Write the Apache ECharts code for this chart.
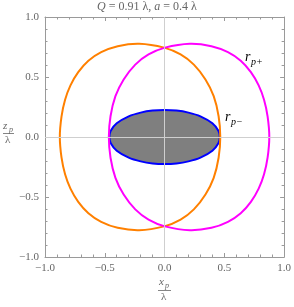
<!DOCTYPE html>
<html><head><meta charset="utf-8">
<script src="https://cdn.jsdelivr.net/npm/echarts@6/dist/echarts.min.js"></script>
<style>html,body{margin:0;padding:0;background:#fff}#c{width:294px;height:307px}</style>
</head><body><div id="c"></div>
<script>
// Tick labels
const tickValues = [-1.0, -0.5, 0.0, 0.5, 1.0];
// r_{p-} curve (orange), closed loop
const orangeX = [0.466, 0.452, 0.411, 0.342, 0.245, 0.134, -0.004, -0.212, -0.392, -0.530, -0.637, -0.722, -0.787, -0.832, -0.862, -0.876,
                 -0.862, -0.832, -0.787, -0.722, -0.637, -0.530, -0.392, -0.212, -0.004, 0.134, 0.245, 0.342, 0.411, 0.452];
const orangeY = [0.0, 0.173, 0.34, 0.479, 0.603, 0.688, 0.745, 0.777, 0.757, 0.707, 0.635, 0.54, 0.43, 0.31, 0.17, 0.0,
                 -0.17, -0.31, -0.43, -0.54, -0.635, -0.707, -0.757, -0.777, -0.745, -0.688, -0.603, -0.479, -0.34, -0.173];
// r_{p+} curve (magenta)
const magentaX = [-0.466, -0.452, -0.411, -0.342, -0.245, -0.134, 0.004, 0.212, 0.392, 0.530, 0.637, 0.722, 0.787, 0.832, 0.862, 0.876,
                  0.862, 0.832, 0.787, 0.722, 0.637, 0.530, 0.392, 0.212, 0.004, -0.134, -0.245, -0.342, -0.411, -0.452];
const magentaY = [0.0, 0.173, 0.34, 0.479, 0.603, 0.688, 0.745, 0.777, 0.757, 0.707, 0.635, 0.54, 0.43, 0.31, 0.17, 0.0,
                  -0.17, -0.31, -0.43, -0.54, -0.635, -0.707, -0.757, -0.777, -0.745, -0.688, -0.603, -0.479, -0.34, -0.173];
// Shaded region (blue outline, grey fill)
const blueX = [0.462, 0.45, 0.40, 0.30, 0.20, 0.10, 0.0, -0.10, -0.20, -0.30, -0.40, -0.45, -0.462,
               -0.45, -0.40, -0.30, -0.20, -0.10, 0.0, 0.10, 0.20, 0.30, 0.40, 0.45];
const blueY = [0.0, 0.052, 0.114, 0.172, 0.203, 0.220, 0.225, 0.220, 0.203, 0.172, 0.114, 0.052, 0.0,
               -0.052, -0.114, -0.172, -0.203, -0.220, -0.225, -0.220, -0.203, -0.172, -0.114, -0.052];

const curves = [
  {xs: blueX, ys: blueY, stroke: '#0000ff', fill: '#7f7f7f', width: 2},
  {xs: orangeX, ys: orangeY, stroke: '#ff8000', fill: null, width: 2},
  {xs: magentaX, ys: magentaY, stroke: '#ff00ff', fill: null, width: 2}
];

const serif = '"Liberation Serif", "DejaVu Serif", serif';
const frameColor = '#9a9a9a';
const labelColor = '#666';
const fmt = v => (v < 0 ? '\u2212' : '') + Math.abs(v).toFixed(1);

function axisCommon(showLabel, pos) {
  return {
    type: 'value', min: tickValues[0], max: tickValues[tickValues.length - 1], interval: 0.5,
    position: pos,
    axisLine: {show: true, onZero: false, lineStyle: {color: frameColor, width: 1}},
    axisTick: {show: true, inside: true, length: 4, lineStyle: {color: frameColor}},
    minorTick: {show: true, splitNumber: 5, length: 2.5, lineStyle: {color: frameColor}},
    splitLine: {show: false},
    axisLabel: {show: showLabel, formatter: fmt, color: labelColor, fontFamily: serif, fontSize: 11,
                showMinLabel: true, showMaxLabel: true, margin: 6}
  };
}

const chart = echarts.init(document.getElementById('c'), null, {renderer: 'canvas'});
chart.setOption({
  animation: false,
  backgroundColor: '#fff',
  grid: {left: 45, top: 17, width: 241, height: 240},
  xAxis: [axisCommon(true, 'bottom'), axisCommon(false, 'top')],
  yAxis: [axisCommon(true, 'left'), axisCommon(false, 'right')],
  series: [
    {
      type: 'line', data: [], xAxisIndex: 0, yAxisIndex: 0, silent: true,
      markLine: {silent: true, symbol: 'none', label: {show: false},
        lineStyle: {color: '#cfcfcf', width: 1, type: 'solid'},
        data: [{xAxis: 0}, {yAxis: 0}]}
    },
    {
      type: 'custom', xAxisIndex: 0, yAxisIndex: 0, silent: true,
      data: curves.map((c, i) => i),
      renderItem: function (params, api) {
        const c = curves[api.value(0)];
        const pts = c.xs.map((x, k) => api.coord([x, c.ys[k]]));
        return {
          type: 'polygon',
          shape: {points: pts, smooth: 0.35},
          style: {fill: c.fill || 'none', stroke: c.stroke, lineWidth: c.width}
        };
      },
      encode: {x: 0}
    }
  ],
  graphic: [
    {type: 'text', left: 'center', top: 1,
     style: {text: '{i|Q} = 0.91 λ, {i|a} = 0.4 λ', fill: labelColor, font: '12px ' + serif,
       rich: {i: {fontStyle: 'italic', fontFamily: serif, fontSize: 12, fill: labelColor}}}},
    // y label fraction
    {type: 'text', x: 3, y: 121, style: {text: 'z', font: 'italic 11px ' + serif, fill: labelColor}},
    {type: 'text', x: 9, y: 126, style: {text: 'p', font: 'italic 8px ' + serif, fill: labelColor}},
    {type: 'line', shape: {x1: 3, y1: 133.5, x2: 14, y2: 133.5}, style: {stroke: labelColor, lineWidth: 0.8}},
    {type: 'text', x: 5, y: 134.5, style: {text: 'λ', font: '11px ' + serif, fill: labelColor}},
    // x label fraction
    {type: 'text', x: 159, y: 277, style: {text: 'x', font: 'italic 11px ' + serif, fill: labelColor}},
    {type: 'text', x: 165, y: 282, style: {text: 'p', font: 'italic 8px ' + serif, fill: labelColor}},
    {type: 'line', shape: {x1: 158, y1: 290.5, x2: 171, y2: 290.5}, style: {stroke: labelColor, lineWidth: 0.8}},
    {type: 'text', x: 161, y: 292, style: {text: 'λ', font: '11px ' + serif, fill: labelColor}},
    // curve labels
    {type: 'text', x: 245, y: 50, style: {text: 'r', font: 'italic 14px ' + serif, fill: '#000'}},
    {type: 'text', x: 251, y: 57, style: {text: 'p+', font: 'italic 10px ' + serif, fill: '#000'}},
    {type: 'text', x: 225, y: 110, style: {text: 'r', font: 'italic 14px ' + serif, fill: '#000'}},
    {type: 'text', x: 231, y: 117, style: {text: 'p\u2212', font: 'italic 10px ' + serif, fill: '#000'}}
  ]
});
</script></body></html>
